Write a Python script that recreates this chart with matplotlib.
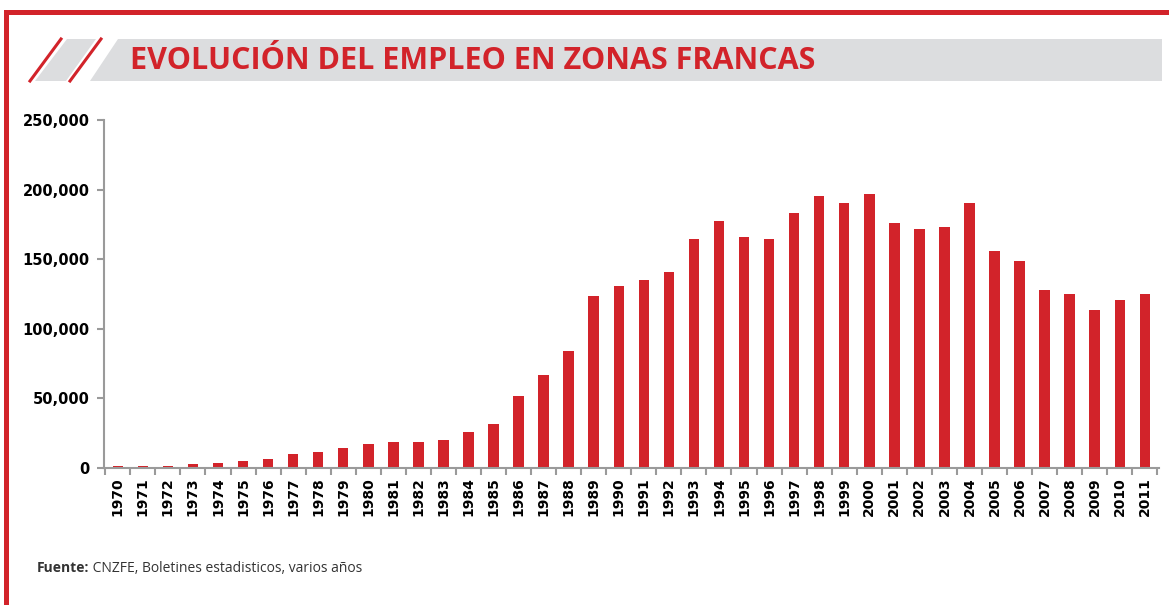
"""Evolución del empleo en zonas francas, bar chart."""
import matplotlib
matplotlib.use("Agg")
import matplotlib.pyplot as plt
from matplotlib.patches import Polygon, Rectangle
from matplotlib.lines import Line2D
from matplotlib.ticker import FuncFormatter, FixedLocator

years = list(range(1970, 2012))
empleo = [
    1300, 1300, 1300, 2700, 3900, 5300, 6700, 9800, 11300, 14200,
    17000, 18500, 18500, 19900, 25600, 31600, 51700, 66800, 84000, 123500,
    130700, 135000, 141000, 164300, 177400, 165700, 164300, 183200, 195200, 190600,
    196600, 176000, 171700, 173100, 190600, 155700, 148500, 127900, 125000, 113300,
    120700, 125000,
]
yticks = [0, 50000, 100000, 150000, 200000, 250000]
title = "EVOLUCIÓN DEL EMPLEO EN ZONAS FRANCAS"
source_bold = "Fuente:"
source_text = " CNZFE, Boletines estadisticos, varios años"

RED = "#D2232A"
GRAY_BANNER = "#DCDDDF"
AXIS_GRAY = "#9A9A9A"

W, H = 1169, 605
fig = plt.figure(figsize=(W / 100, H / 100), dpi=100)
fig.patch.set_facecolor("white")


def px(x, y):
    """pixel coords (top-left origin) -> figure fraction"""
    return (x / W, 1 - y / H)


# red frame (top and left)
fig.add_artist(Rectangle(px(4, 15), (W - 4) / W, 5 / H, transform=fig.transFigure,
                         color=RED, lw=0))
fig.add_artist(Rectangle(px(4, H), 5 / W, (H - 10) / H, transform=fig.transFigure,
                         color=RED, lw=0))

# title banner with slanted decorations
banner = [px(90, 81), px(118, 39), px(1162, 39), px(1162, 81)]
fig.add_artist(Polygon(banner, closed=True, transform=fig.transFigure,
                       color=GRAY_BANNER, lw=0))
fig.add_artist(Polygon([px(35, 81), px(67, 39), px(96, 39), px(66, 81)], closed=True,
                       transform=fig.transFigure, color=GRAY_BANNER, lw=0))
for x0, x1 in [(30, 61), (70, 101)]:
    fig.add_artist(Line2D([x0 / W, x1 / W], [1 - 81 / H, 1 - 39 / H],
                          transform=fig.transFigure, color=RED, lw=2.2))

fig.text(130 / W, 1 - 61 / H, title, color=RED, fontsize=22, fontweight="bold",
         family="Open Sans", va="center", ha="left")

# chart
ax = fig.add_axes([104 / W, 1 - 468 / H, (1158.6 - 104) / W, (468 - 120) / H])
x = list(range(len(years)))
ax.bar(x, empleo, width=0.42, color=RED, linewidth=0)
ax.set_xlim(-0.55, len(years) - 1 + 0.55)
ax.set_ylim(0, 250000)

ax.set_yticks(yticks)
ax.yaxis.set_major_formatter(FuncFormatter(lambda v, _: f"{int(v):,}"))
ax.set_xticks(x)
ax.set_xticklabels([str(y) for y in years], rotation=90, fontsize=10, fontweight="bold")
ax.xaxis.set_minor_locator(FixedLocator([i - 0.5 for i in range(len(years) + 1)]))
ax.tick_params(axis="x", which="major", length=0, pad=6.5)
ax.tick_params(axis="x", which="minor", length=5, width=1.5, color=AXIS_GRAY)
ax.tick_params(axis="y", length=5, width=1.5, color=AXIS_GRAY, pad=5.5, labelsize=10.5)
for lbl in ax.get_yticklabels():
    lbl.set_fontweight("bold")

for side in ("top", "right"):
    ax.spines[side].set_visible(False)
for side in ("left", "bottom"):
    ax.spines[side].set_color(AXIS_GRAY)
    ax.spines[side].set_linewidth(1.5)

# source note: bold lead-in, then regular text on the same baseline
src_y = 1 - 572 / H
t1 = fig.text(37 / W, src_y, source_bold, fontsize=10, fontweight="bold",
              family="Open Sans", color="#333333", va="baseline")
bb = t1.get_window_extent(fig.canvas.get_renderer())
fig.text(bb.x1 / fig.bbox.width, src_y, source_text, fontsize=10,
         family="Open Sans", color="#333333", va="baseline")

fig.savefig("out.png", dpi=100)
